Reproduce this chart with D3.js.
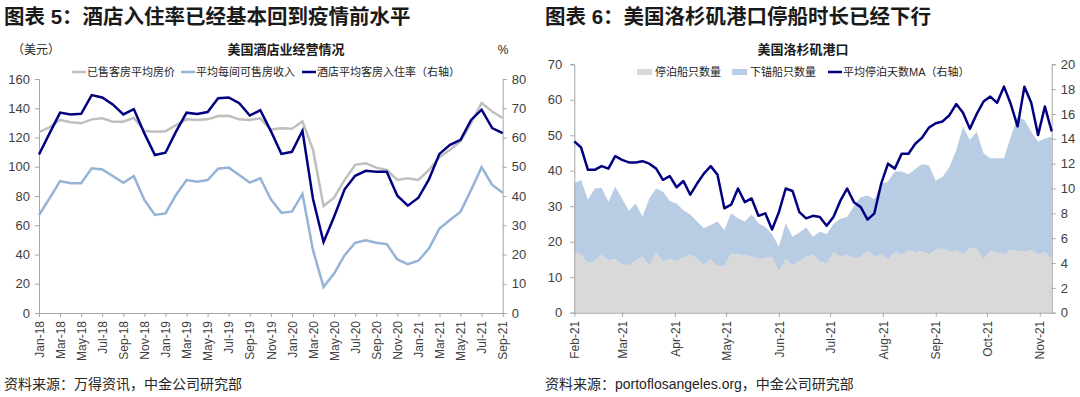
<!DOCTYPE html>
<html>
<head>
<meta charset="utf-8">
<script src="https://cdn.jsdelivr.net/npm/d3@7"></script>
<style>
  body { margin: 0; background: #fff; }
  svg { display: block; font-family: "Liberation Sans", Arial, "Noto Sans CJK SC", sans-serif; }
  .axis path, .axis line { stroke: #a6a6a6; }
  .axis text { fill: #404040; }
</style>
</head>
<body>
<div id="chart"></div>
<script>
// ---- chart 5: US hotel data (monthly) ----
const hotelMonths = [
  "Jan-18","Feb-18","Mar-18","Apr-18","May-18","Jun-18","Jul-18","Aug-18","Sep-18","Oct-18","Nov-18","Dec-18",
  "Jan-19","Feb-19","Mar-19","Apr-19","May-19","Jun-19","Jul-19","Aug-19","Sep-19","Oct-19","Nov-19","Dec-19",
  "Jan-20","Feb-20","Mar-20","Apr-20","May-20","Jun-20","Jul-20","Aug-20","Sep-20","Oct-20","Nov-20","Dec-20",
  "Jan-21","Feb-21","Mar-21","Apr-21","May-21","Jun-21","Jul-21","Aug-21","Sep-21"
];
// 已售客房平均房价 (USD)
const adr = [
  123.7, 127, 132, 130.4, 129.7, 132.4, 133.1, 130.8, 130.8, 133.5, 124.4, 124,
  124.2, 128.5, 132.4, 132, 132.4, 134.7, 134.9, 132.4, 132, 133.1, 125.4, 126.4,
  126, 131, 111.5, 73.1, 78.9, 91, 101.3, 102.4, 99.4, 97.8, 91, 92.1,
  91, 97.8, 106.5, 111.6, 117.3, 129.8, 143.6, 137.8, 133.3
];
// 平均每间可售房收入 (USD)
const revpar = [
  67, 78.4, 90.2, 88.7, 88.7, 98.9, 98.2, 93.7, 89.1, 93.7, 77.3, 67,
  68.1, 80.7, 90.9, 89.8, 90.9, 98.7, 99.4, 94.4, 89.1, 92.1, 77.8, 68.6,
  69.3, 81.4, 43, 17.8, 27, 39.5, 48, 49.8, 48, 47.1, 36.6, 33.4,
  35.7, 44.1, 57.8, 63.6, 69.3, 84.1, 99.7, 87.6, 82.3
];
// 酒店平均客房入住率 (%, right axis)
const occupancy = [
  54.2, 61.4, 68.5, 67.9, 68.1, 74.5, 73.7, 71.3, 67.9, 69.7, 61.4, 54,
  54.8, 62, 68.5, 68, 68.7, 73.4, 73.7, 71.7, 67.5, 69.3, 62.2, 54.4,
  55.1, 62.3, 39, 24.3, 32.9, 42.3, 46.9, 48.6, 48.3, 48.3, 40.1, 36.7,
  39.4, 45.7, 54.4, 57.5, 59.2, 66, 69.5, 63.2, 61.5
];
const hotelTicks = hotelMonths.filter((m, i) => i % 2 === 0);

// ---- chart 6: Port of Los Angeles (every 4 days) ----
const portDates = [
  "2021-02-01","2021-02-05","2021-02-09","2021-02-13","2021-02-17","2021-02-21","2021-02-25",
  "2021-03-01","2021-03-05","2021-03-09","2021-03-13","2021-03-17","2021-03-21","2021-03-25","2021-03-29",
  "2021-04-02","2021-04-06","2021-04-10","2021-04-14","2021-04-18","2021-04-22","2021-04-26","2021-04-30",
  "2021-05-04","2021-05-08","2021-05-12","2021-05-16","2021-05-20","2021-05-24","2021-05-28",
  "2021-06-01","2021-06-05","2021-06-09","2021-06-13","2021-06-17","2021-06-21","2021-06-25","2021-06-29",
  "2021-07-03","2021-07-07","2021-07-11","2021-07-15","2021-07-19","2021-07-23","2021-07-27","2021-07-31",
  "2021-08-04","2021-08-08","2021-08-12","2021-08-16","2021-08-20","2021-08-24","2021-08-28",
  "2021-09-01","2021-09-05","2021-09-09","2021-09-13","2021-09-17","2021-09-21","2021-09-25","2021-09-29",
  "2021-10-03","2021-10-07","2021-10-11","2021-10-15","2021-10-19","2021-10-23","2021-10-27","2021-10-31",
  "2021-11-04","2021-11-08"
];
// 停泊船只数量
const berthed = [
  17.0, 16.4, 13.9, 14.6, 16.3, 14.8, 15.1, 13.6, 13.4, 14.8,
  15.8, 13.2, 17.0, 14.4, 15.1, 14.6, 15.5, 16.4, 15.3, 13.6,
  15.1, 13.0, 13.2, 16.6, 16.4, 16.1, 15.9, 15.1, 15.5, 15.7,
  11.6, 15.1, 13.4, 14.6, 15.8, 16.4, 14.4, 13.9, 17.0, 15.8,
  16.3, 15.5, 15.8, 17.4, 15.8, 16.4, 15.1, 17.2, 16.3, 17.7,
  17.0, 17.4, 16.4, 17.9, 18.1, 17.2, 17.7, 16.4, 18.1, 18.1,
  15.1, 17.4, 17.0, 16.4, 17.7, 17.4, 17.2, 17.7, 16.4, 17.0,
  15.5
];
// 下锚船只数量
const anchored = [
  19.5, 21.0, 17.9, 20.4, 18.9, 16.5, 20.4, 18.6, 15.3, 16.0,
  11.3, 19.0, 18.0, 19.7, 16.4, 16.2, 13.4, 11.3, 10.4, 10.2,
  9.6, 12.7, 10.1, 11.4, 10.2, 9.6, 11.8, 10.1, 8.7, 6.4,
  7.0, 10.1, 8.0, 8.0, 8.2, 5.0, 8.4, 8.3, 8.0, 10.7,
  10.7, 14.5, 16.7, 15.6, 16.2, 19.9, 21.9, 22.6, 23.5, 21.3,
  23.5, 24.4, 25.1, 19.3, 20.2, 23.8, 28.1, 36.0, 30.6, 32.9,
  29.8, 26.1, 26.5, 27.1, 31.9, 37.8, 37.1, 33.3, 31.8, 32.1,
  34.1
];
// 平均停泊天数MA (right axis)
const stayMA = [
  13.8, 13.3, 11.5, 11.5, 11.8, 11.6, 12.6, 12.3, 12.1, 12.1,
  12.2, 12.0, 11.6, 10.7, 11.0, 10.1, 10.6, 9.5, 10.4, 11.2,
  11.8, 11.1, 8.4, 8.7, 10.0, 8.9, 9.2, 7.8, 8.0, 6.7,
  8.1, 10.0, 9.8, 8.1, 7.6, 7.8, 7.7, 7.0, 7.7, 9.0,
  10.0, 8.9, 8.5, 7.5, 8.0, 10.4, 12.0, 11.6, 12.8, 12.8,
  13.6, 14.1, 14.9, 15.25, 15.4, 15.9, 16.8, 16.1, 14.8, 16.0,
  17.0, 17.4, 16.9, 18.2, 16.8, 15.0, 18.2, 16.9, 14.3, 16.6,
  14.6
];

const W = 1080, H = 397;
const svg = d3.select("#chart").append("svg")
  .attr("width", W).attr("height", H);

const latin = '"Liberation Sans", Arial, sans-serif';
const cjk = '"Liberation Sans", "Noto Sans CJK SC", sans-serif';

// Figure titles
function figTitle(x, text) {
  svg.append("text")
    .attr("x", x).attr("y", 24)
    .attr("font-family", cjk)
    .attr("font-size", "20.5px")
    .attr("font-weight", "bold")
    .attr("fill", "#1a1a1a")
    .text(text);
}
figTitle(4, "图表 5：酒店入住率已经基本回到疫情前水平");
figTitle(545, "图表 6：美国洛杉矶港口停船时长已经下行");

function source(x, text) {
  svg.append("text")
    .attr("x", x).attr("y", 389)
    .attr("font-family", cjk)
    .attr("font-size", "14px")
    .attr("fill", "#262626")
    .text(text);
}
source(4, "资料来源：万得资讯，中金公司研究部");
source(545, "资料来源：portoflosangeles.org，中金公司研究部");

// Legend helpers
function legendLine(x, y, color, label) {
  svg.append("line")
    .attr("x1", x).attr("x2", x + 14).attr("y1", y).attr("y2", y)
    .attr("stroke", color).attr("stroke-width", 2.5);
  svg.append("text")
    .attr("x", x + 15).attr("y", y + 4)
    .attr("font-family", cjk).attr("font-size", "11px").attr("fill", "#262626")
    .text(label);
}
function legendRect(x, y, color, label) {
  svg.append("rect")
    .attr("x", x).attr("y", y - 3).attr("width", 15).attr("height", 6)
    .attr("fill", color);
  svg.append("text")
    .attr("x", x + 18).attr("y", y + 4)
    .attr("font-family", cjk).attr("font-size", "11px").attr("fill", "#262626")
    .text(label);
}

function styleAxis(g, size) {
  g.attr("font-family", latin);
  g.selectAll("text").attr("font-size", size);
}

// ================= Chart 5 =================
{
  const left = 39, right = 502.7, top = 79, bottom = 313;
  const x = d3.scalePoint().domain(hotelMonths).range([left, right]);
  const yL = d3.scaleLinear().domain([0, 160]).range([bottom, top]);
  const yR = d3.scaleLinear().domain([0, 80]).range([bottom, top]);

  svg.append("text")
    .attr("x", 286).attr("y", 54).attr("text-anchor", "middle")
    .attr("font-family", cjk).attr("font-size", "13px").attr("font-weight", "bold")
    .attr("fill", "#1a1a1a").text("美国酒店业经营情况");
  svg.append("text")
    .attr("x", 12).attr("y", 54)
    .attr("font-family", cjk).attr("font-size", "12px").attr("fill", "#262626")
    .text("（美元）");
  svg.append("text")
    .attr("x", 503).attr("y", 54).attr("text-anchor", "middle")
    .attr("font-family", latin).attr("font-size", "12px").attr("fill", "#262626").text("%");

  legendLine(72, 72, "#bfbfbf", "已售客房平均房价");
  legendLine(181, 72, "#95b3d7", "平均每间可售房收入");
  legendLine(302, 72, "#000080", "酒店平均客房入住率（右轴）");

  svg.append("g").attr("class", "axis")
    .attr("transform", `translate(${left},0)`)
    .call(d3.axisLeft(yL).tickValues(d3.range(0, 161, 20)).tickSize(4).tickPadding(5))
    .call(styleAxis, "13px");
  svg.append("g").attr("class", "axis")
    .attr("transform", `translate(${right},0)`)
    .call(d3.axisRight(yR).tickValues(d3.range(0, 81, 10)).tickSize(4).tickPadding(5))
    .call(styleAxis, "13px");
  svg.append("g").attr("class", "axis")
    .attr("transform", `translate(0,${bottom})`)
    .call(d3.axisBottom(x).tickValues(hotelTicks).tickSize(4).tickSizeOuter(0))
    .call(styleAxis, "12px")
    .call(g => g.selectAll("text")
      .attr("transform", "rotate(-90)")
      .attr("text-anchor", "end")
      .attr("x", -8).attr("y", 0).attr("dy", "0.35em"));

  const lineL = d3.line().x((d, i) => x(hotelMonths[i])).y(d => yL(d));
  const lineR = d3.line().x((d, i) => x(hotelMonths[i])).y(d => yR(d));

  svg.append("path").datum(adr).attr("d", lineL)
    .attr("fill", "none").attr("stroke", "#bfbfbf").attr("stroke-width", 2.5);
  svg.append("path").datum(revpar).attr("d", lineL)
    .attr("fill", "none").attr("stroke", "#95b3d7").attr("stroke-width", 2.5);
  svg.append("path").datum(occupancy).attr("d", lineR)
    .attr("fill", "none").attr("stroke", "#000080").attr("stroke-width", 2.5);
}

// ================= Chart 6 =================
{
  const left = 574.3, right = 1051.7, top = 64.3, bottom = 312.7;
  const parse = d3.timeParse("%Y-%m-%d");
  const dates = portDates.map(parse);
  const x = d3.scaleTime()
    .domain([parse("2021-02-01"), parse("2021-11-08")])
    .range([left, right]);
  const yL = d3.scaleLinear().domain([0, 70]).range([bottom, top]);
  const yR = d3.scaleLinear().domain([0, 20]).range([bottom, top]);

  svg.append("text")
    .attr("x", 803).attr("y", 54).attr("text-anchor", "middle")
    .attr("font-family", cjk).attr("font-size", "13px").attr("font-weight", "bold")
    .attr("fill", "#1a1a1a").text("美国洛杉矶港口");

  legendRect(637, 72, "#d9d9d9", "停泊船只数量");
  legendRect(732, 72, "#b8cce4", "下锚船只数量");
  legendLine(828, 72, "#000080", "平均停泊天数MA（右轴）");

  const rows = dates.map((d, i) => ({ date: d, berthed: berthed[i], anchored: anchored[i] }));
  const series = d3.stack().keys(["berthed", "anchored"])(rows);
  const area = d3.area()
    .x(d => x(d.data.date))
    .y0(d => yL(d[0]))
    .y1(d => yL(d[1]));
  const fills = { berthed: "#d9d9d9", anchored: "#b8cce4" };
  svg.append("g").selectAll("path")
    .data(series)
    .join("path")
    .attr("d", area)
    .attr("fill", d => fills[d.key]);

  svg.append("g").attr("class", "axis")
    .attr("transform", `translate(${left},0)`)
    .call(d3.axisLeft(yL).tickValues(d3.range(0, 71, 10)).tickSize(4).tickPadding(8))
    .call(styleAxis, "13px");
  svg.append("g").attr("class", "axis")
    .attr("transform", `translate(${right},0)`)
    .call(d3.axisRight(yR).tickValues(d3.range(0, 21, 2)).tickSize(4).tickPadding(5))
    .call(styleAxis, "13px");
  svg.append("g").attr("class", "axis")
    .attr("transform", `translate(0,${bottom})`)
    .call(d3.axisBottom(x).ticks(d3.timeMonth.every(1)).tickFormat(d3.timeFormat("%b-%y"))
      .tickSize(4).tickSizeOuter(0))
    .call(styleAxis, "12px")
    .call(g => g.selectAll("text")
      .attr("transform", "rotate(-90)")
      .attr("text-anchor", "end")
      .attr("x", -8).attr("y", 0).attr("dy", "0.35em"));

  const ma = d3.line().x((d, i) => x(dates[i])).y(d => yR(d));
  svg.append("path").datum(stayMA).attr("d", ma)
    .attr("fill", "none").attr("stroke", "#000080").attr("stroke-width", 2.5)
    .attr("stroke-linejoin", "round");
}
</script>
</body>
</html>
